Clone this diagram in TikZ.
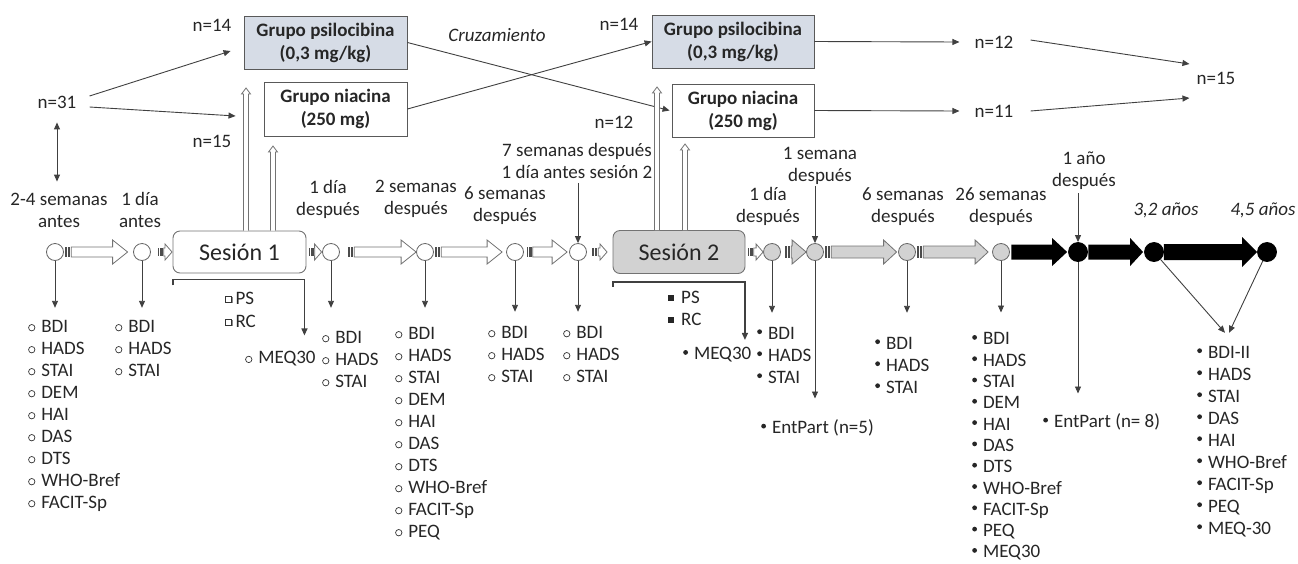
\documentclass[tikz,border=0pt]{standalone}
\usepackage{fontspec}
\setmainfont{Carlito}
\usetikzlibrary{arrows.meta,calc,positioning}
\definecolor{psiblue}{RGB}{214,220,230}
\definecolor{lightgr}{RGB}{210,210,210}
% bullets
\newcommand{\ob}{\tikz[baseline=0pt]\draw[black!80,line width=0.7pt] (3.5pt,4.5pt) circle (3.2pt);\hspace{6pt}}
\newcommand{\fb}{\tikz[baseline=0pt]\fill[black!85] (2.5pt,7.5pt) circle (2.4pt);\hspace{6pt}}
\newcommand{\osq}{\tikz[baseline=0pt]{\fill[black!45] (1.2pt,1.2pt) rectangle (7pt,7pt); \draw[black!80,fill=white,line width=0.6pt] (0pt,2.4pt) rectangle (5.6pt,8pt);}\hspace{3pt}}
\newcommand{\fsq}{\tikz[baseline=0pt]\fill[black!85] (0pt,2.2pt) rectangle (6pt,8.2pt);\hspace{7pt}}
% timeline arrows: from, to, fill, body half, head half, head length, tail gap, tip gap
\newcommand{\tlarrow}[8]{%
  \path (#1.east) coordinate (ta) (#2.west) coordinate (tb);
  \fill[black!70] ($(ta)+(#7,-#4)$) rectangle ($(ta)+(#7+1.5,#4)$);
  \fill[black!70] ($(ta)+(#7+2.5,-#4)$) rectangle ($(ta)+(#7+5,#4)$);
  \draw[blk, fill=#3] ($(ta)+(#7+5.8,-#4)$) -- ($(tb)+(-#8-#6,-#4)$) -- ($(tb)+(-#8-#6,-#5)$)
    -- ($(tb)+(-#8,0)$) -- ($(tb)+(-#8-#6,#5)$) -- ($(tb)+(-#8-#6,#4)$) -- ($(ta)+(#7+5.8,#4)$) -- cycle;
}
% black arrows: from, to, body half, head half, head length, tail gap, tip gap
\newcommand{\tlbarrow}[7]{%
  \path (#1.east) coordinate (ta) (#2.west) coordinate (tb);
  \fill[black] ($(ta)+(#6,-#3)$) -- ($(tb)+(-#7-#5,-#3)$) -- ($(tb)+(-#7-#5,-#4)$)
    -- ($(tb)+(-#7,0)$) -- ($(tb)+(-#7-#5,#4)$) -- ($(tb)+(-#7-#5,#3)$) -- ($(ta)+(#6,#3)$) -- cycle;
}
% hollow up arrow: top coordinate, session node
\newcommand{\uparr}[2]{%
  \draw[blk, fill=white] ($(#1 |- #2.north)+(-2.5,0)$) -- ($(#1)+(-2.5,6)$) -- ($(#1)+(-4.5,6)$) -- (#1)
    -- ($(#1)+(4.5,6)$) -- ($(#1)+(2.5,6)$) -- ($(#1 |- #2.north)+(2.5,0)$);
}
\begin{document}
\begin{tikzpicture}[x=1pt,y=-1pt,
  txt/.style={font=\fontsize{19}{22}\selectfont, inner sep=0pt, align=center, text=black!85},
  lst/.style={txt, align=left, anchor=north west},
  itx/.style={txt, font=\fontsize{19}{22}\itshape\selectfont},
  grp/.style={draw=black!65, line width=0.9pt, inner sep=0pt, align=center, text=black!85,
    font=\fontsize{19}{23}\bfseries\selectfont},
  ses/.style={draw=black!55, line width=0.9pt, rounded corners=7pt, minimum width=133pt,
    minimum height=42pt, inner sep=0pt, font=\fontsize{24}{26}\selectfont, text=black!85},
  tp/.style={circle, draw=black!60, line width=0.8pt, minimum size=17pt, inner sep=0pt, fill=white},
  tpg/.style={tp, fill=lightgr},
  tpb/.style={tp, fill=black, draw=black, minimum size=19pt},
  ln/.style={draw=black!75, line width=0.9pt, -{Triangle[length=7pt,width=6pt]}},
  blk/.style={draw=black!55, line width=0.8pt},
]
\useasboundingbox (0,0) rectangle (1298,563);

% groups
\node[grp, fill=psiblue, minimum width=163pt, minimum height=53pt] (psi1) at (325.5,42.5) {Grupo psilocibina\\(0,3 mg/kg)};
\node[grp, fill=white, minimum width=143pt, minimum height=54pt] (nia1) at (335.5,109) {Grupo niacina\\(250 mg)};
\node[grp, fill=psiblue, minimum width=162pt, minimum height=53pt] (psi2) at (733,41.5) {Grupo psilocibina\\(0,3 mg/kg)};
\node[grp, fill=white, minimum width=142pt, minimum height=53pt] (nia2) at (743,110.5) {Grupo niacina\\(250 mg)};

% sample sizes
\node[txt] (n31) at (57,102) {n=31};
\node[txt] (n14a) at (212,25) {n=14};
\node[txt] (n15a) at (212,141) {n=15};
\node[txt] (n14b) at (619,24) {n=14};
\node[txt] (n12a) at (614,122) {n=12};
\node[txt] (n12b) at (994,42) {n=12};
\node[txt] (n11) at (994,111) {n=11};
\node[txt] (n15b) at (1216,78) {n=15};
\node[itx] (cruz) at (497,35) {Cruzamiento};

% sessions
\node[ses, fill=white] (ses1) at (239.5,252) {Sesión 1};
\node[ses, fill=lightgr, minimum width=132pt, minimum height=43pt] (ses2) at (679,252) {Sesión 2};

% time points
\node[tp] (c1) at (55,252) {};
\node[tp] (c2) at (142,252) {};
\node[tp] (c3) at (331,252) {};
\node[tp] (c4) at (425,252) {};
\node[tp] (c5) at (515,252) {};
\node[tp] (c6) at (578,252) {};
\node[tpg] (c7) at (772,252) {};
\node[tpg] (c8) at (815,252) {};
\node[tpg] (c9) at (907,252) {};
\node[tpg] (c10) at (1001,252) {};
\node[tpb] (c11) at (1078,252) {};
\node[tpb] (c12) at (1154,252) {};
\node[tpb] (c13) at (1267,252) {};

% time labels
\node[txt] (t1) at (59,210) {2-4 semanas\\antes};
\node[txt] (t2) at (140,210) {1 día\\antes};
\node[txt] (t3) at (328,199) {1 día\\después};
\node[txt] (t4) at (416,199) {2 semanas\\después};
\node[txt] (t5) at (505,206) {6 semanas\\después};
\node[txt] (t6) at (577,161) {7 semanas después\\1 día antes sesión 2};
\node[txt] (t7) at (768,206) {1 día\\después};
\node[txt] (t8) at (820,166) {1 semana\\después};
\node[txt] (t9) at (903,207) {6 semanas\\después};
\node[txt] (t10) at (1001,207) {26 semanas\\después};
\node[txt] (t11) at (1084,171) {1 año\\después};
\node[itx] (t12) at (1166,210) {3,2 años};
\node[itx] (t13) at (1263,210) {4,5 años};

% measures
\node[lst] (l1) at (28,319.8) {\ob BDI\\\ob HADS\\\ob STAI\\\ob DEM\\\ob HAI\\\ob DAS\\\ob DTS\\\ob WHO-Bref\\\ob FACIT-Sp};
\node[lst] (l2) at (115,319.8) {\ob BDI\\\ob HADS\\\ob STAI};
\node[lst] (ps1) at (225,291.8) {\osq PS\\[1pt]\osq RC};
\node[txt, anchor=west] (meq1) at (245,359) {\ob MEQ30};
\node[lst] (l3) at (322,330.8) {\ob BDI\\\ob HADS\\\ob STAI};
\node[lst] (l4) at (395,326.8) {\ob BDI\\\ob HADS\\\ob STAI\\\ob DEM\\\ob HAI\\\ob DAS\\\ob DTS\\\ob WHO-Bref\\\ob FACIT-Sp\\\ob PEQ};
\node[lst] (l5) at (488,325.8) {\ob BDI\\\ob HADS\\\ob STAI};
\node[lst] (l6) at (563,325.8) {\ob BDI\\\ob HADS\\\ob STAI};
\node[lst] (ps2) at (668,290.8) {\fsq PS\\\fsq RC};
\node[txt, anchor=west] (meq2) at (683,355) {\fb MEQ30};
\node[lst] (l7) at (757,326.8) {\fb BDI\\\fb HADS\\\fb STAI};
\node[txt, anchor=west] (ent1) at (761,428) {\fb EntPart (n=5)};
\node[lst] (l9) at (875,336.8) {\fb BDI\\\fb HADS\\\fb STAI};
\node[lst, font=\fontsize{19}{21.3}\selectfont] (l10) at (972,332.5) {\fb BDI\\\fb HADS\\\fb STAI\\\fb DEM\\\fb HAI\\\fb DAS\\\fb DTS\\\fb WHO-Bref\\\fb FACIT-Sp\\\fb PEQ\\\fb MEQ30};
\node[txt, anchor=west] (ent2) at (1043,422) {\fb EntPart (n= 8)};
\node[lst] (l12) at (1197,345.8) {\fb BDI-II\\\fb HADS\\\fb STAI\\\fb DAS\\\fb HAI\\\fb WHO-Bref\\\fb FACIT-Sp\\\fb PEQ\\\fb MEQ-30};

% randomisation and crossover
\draw[ln] ([shift={(13,-6)}]n31.east) -- ([shift={(-13,8.5)}]psi1.west);
\draw[ln] ([shift={(13,5)}]n31.east) -- ([shift={(-28,7)}]nia1.west);
\draw[ln, {Triangle[length=7pt,width=6pt]}-{Triangle[length=7pt,width=6pt]}] ([yshift=-14]n31.south) -- ([yshift=11]t1.north -| n31);
\draw[ln] (psi1.east) -- ([xshift=-2]nia2.west);
\draw[ln] (nia1.east) -- (psi2.west);
\draw[ln] (psi2.east) -- ([xshift=-15]n12b.west);
\draw[ln] (nia2.east) -- ([xshift=-15]n11.west);
\draw[ln] ([shift={(17,-2)}]n12b.east) -- ([shift={(-7,-14)}]n15b.west);
\draw[ln] ([shift={(17,0)}]n11.east) -- ([shift={(-7,20)}]n15b.west);

% groups into sessions
\coordinate (u1) at (246,88);
\coordinate (u2) at (273,146);
\coordinate (u3) at (657,87);
\coordinate (u4) at (685,144);
\uparr{u1}{ses1}
\uparr{u2}{ses1}
\uparr{u3}{ses2}
\uparr{u4}{ses2}

% timeline
\tlarrow{c1}{c2}{white}{5}{12}{15}{1.5}{5.5}
\tlarrow{c2}{ses1}{white}{4}{8}{7}{7}{0.5}
\tlarrow{ses1}{c3}{white}{4}{8}{7}{2.5}{0.5}
\tlarrow{c3}{c4}{white}{5}{12}{15}{8.5}{0}
\tlarrow{c4}{c5}{white}{5}{12}{15}{1.5}{4}
\tlarrow{c5}{c6}{white}{5}{12}{15}{3}{2}
\tlarrow{c6}{ses2}{white}{4}{8}{7}{5.5}{5.5}
\tlarrow{ses2}{c7}{white}{4}{8}{7}{2.5}{0}
\tlarrow{c7}{c8}{lightgr}{6}{12}{14}{4.5}{0}
\tlarrow{c8}{c9}{lightgr}{6}{12}{13}{1.5}{1.5}
\tlarrow{c9}{c10}{lightgr}{6}{12}{13}{1.5}{4}
\tlbarrow{c10}{c11}{7.5}{14}{15}{1.5}{1}
\tlbarrow{c11}{c12}{7.5}{14}{13}{0.5}{1}
\tlbarrow{c12}{c13}{8}{15}{15}{0}{0}

% label pointers
\draw[ln] ([yshift=-4]t6.south -| c6) -- (c6.north);
\draw[ln] ([yshift=-1]t8.south -| c8) -- (c8.north);
\draw[ln] ([yshift=-3]t11.south -| c11) -- (c11.north);

% measurements
\draw[ln] (c1.south) -- ([yshift=12]l1.north -| c1);
\draw[ln] (c2.south) -- ([yshift=12]l2.north -| c2);
\draw[ln] (c3.south) -- ([yshift=23]l3.north -| c3);
\draw[ln] (c4.south) -- ([yshift=19]l4.north -| c4);
\draw[ln] (c5.south) -- ([yshift=14]l5.north -| c5);
\draw[ln] (c6.south) -- ([yshift=14]l6.north -| c6);
\draw[ln] (c7.south) -- ([yshift=14]l7.north -| c7);
\draw[ln] (c8.south) -- ([yshift=21]ent1.north -| c8);
\draw[ln] (c9.south) -- ([yshift=24]l9.north -| c9);
\draw[ln] (c10.south) -- ([yshift=20]l10.north -| c10);
\draw[ln] (c11.south) -- ([yshift=20]ent2.north -| c11);
\coordinate (j12) at ($(l12.north west)+(30,-13)$);
\draw[ln] (c12) -- ([xshift=-2]j12);
\draw[ln] (c13) -- ([xshift=2]j12);

% session brackets
\draw[ln, line width=1.3pt] ($(ses1.south west)+(0.5,12)$) -- ++(0,-6) -| ($(ses1.south east)+(-2,62)$);
\draw[ln, line width=1.3pt] ($(ses2.south west)+(0.5,13)$) -- ++(0,-5) -| ($(ses2.south east)+(-0.5,66)$);
\end{tikzpicture}
\end{document}
